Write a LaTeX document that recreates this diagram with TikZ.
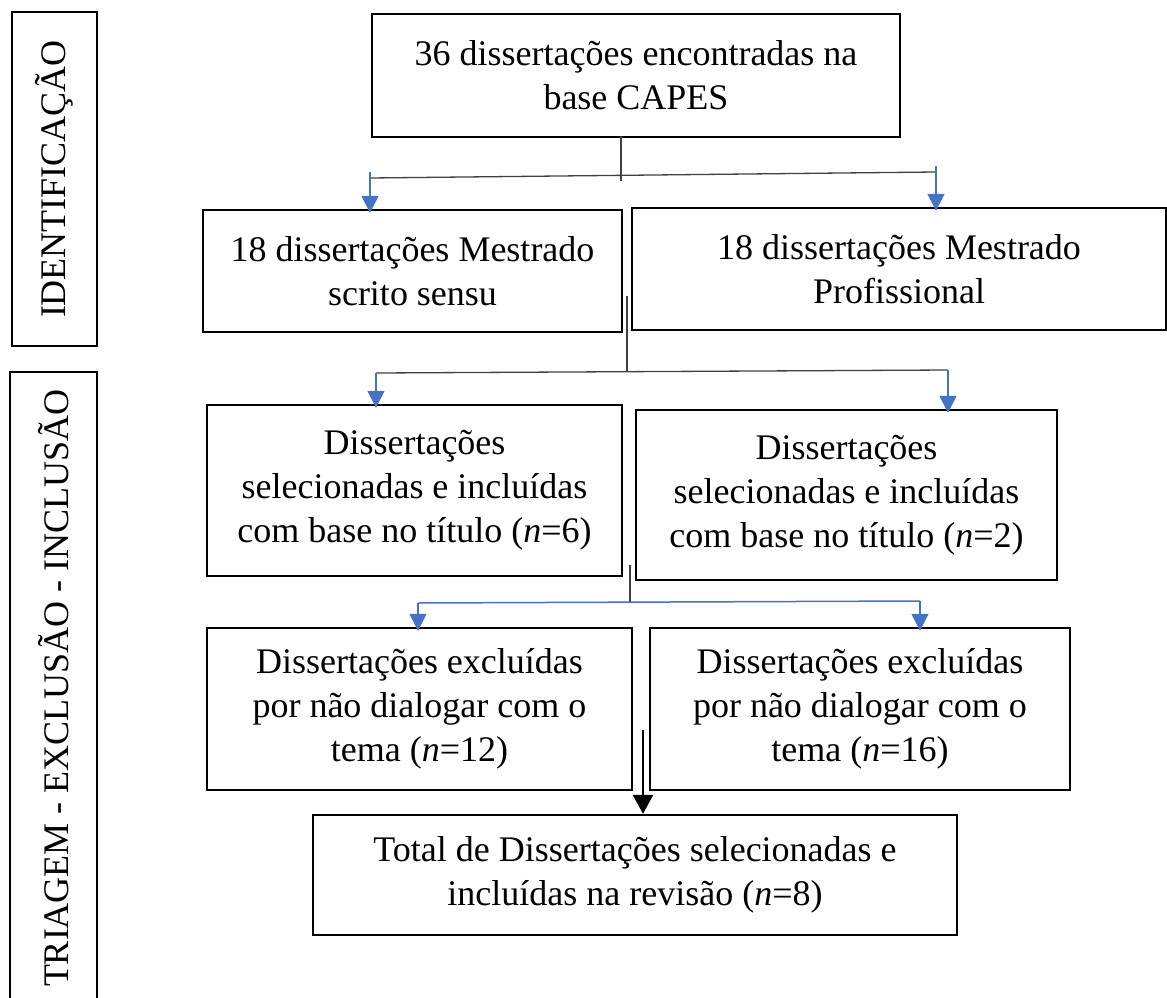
\documentclass[tikz,border=0pt]{standalone}
\usepackage{fontspec}
\setmainfont{Liberation Serif}
\usetikzlibrary{arrows.meta}
\definecolor{arrowblue}{HTML}{4472C4}
\definecolor{linegray}{HTML}{404040}
\begin{document}
\begin{tikzpicture}[x=1pt,y=-1pt,
  box/.style={draw, line width=2.4pt, align=center, inner sep=0pt,
    font=\fontsize{36}{44}\selectfont},
  conn/.style={draw=linegray, line width=1.3pt},
  barrow/.style={draw=arrowblue, line width=1.5pt, -{Triangle[width=17pt,length=17pt]}, arrowblue, shorten >=-4pt},
  karrow/.style={draw=black, line width=2.8pt, -{Triangle[width=20pt,length=19pt]}}]
\useasboundingbox (0,0) rectangle (1167,998);
% phase boxes
\node[box, rotate=90, minimum width=334pt, minimum height=85pt] (ph1) at (54.5,179) {IDENTIFICAÇÃO};
\node[box, rotate=90, minimum width=632pt, minimum height=87pt] (ph2) at (53.5,688) {TRIAGEM - EXCLUSÃO - INCLUSÃO};
% boxes
\node[box, minimum width=528pt, minimum height=123pt] (top) at (636,75.5) {36 dissertações encontradas na\\base CAPES};
\node[box, minimum width=419pt, minimum height=122pt] (ms) at (412.5,271) {18 dissertações Mestrado\\scrito sensu};
\node[box, minimum width=534pt, minimum height=122pt] (mp) at (899,269) {18 dissertações Mestrado\\Profissional};
\node[box, minimum width=415pt, minimum height=171pt] (n6) at (414.5,490.5) {Dissertações\\selecionadas e incluídas\\com base no título (\textit{n}=6)};
\node[box, minimum width=421pt, minimum height=170pt] (n2) at (846.5,495) {Dissertações\\selecionadas e incluídas\\com base no título (\textit{n}=2)};
\node[box, minimum width=425pt, minimum height=162pt] (n12) at (419.5,709) {Dissertações excluídas\\por não dialogar com o\\tema (\textit{n}=12)};
\node[box, minimum width=420pt, minimum height=162pt] (n16) at (860,709) {Dissertações excluídas\\por não dialogar com o\\tema (\textit{n}=16)};
\node[box, minimum width=644pt, minimum height=120pt] (total) at (635,875) {Total de Dissertações selecionadas e\\incluídas na revisão (\textit{n}=8)};
% connector 1
\coordinate (s1) at (621,136);
\coordinate (e1) at (621,181);
\coordinate (h1l) at (370,178);
\coordinate (h1r) at (936,172);
\coordinate (t1l) at (370,172);
\coordinate (t1r) at (936,166);
\draw[conn] (s1) -- (e1);
\draw[conn] (h1l) -- (h1r);
\draw[barrow] (t1l) -- (t1l |- ms.north);
\draw[barrow] (t1r) -- (t1r |- mp.north);
% connector 2
\coordinate (s2) at (627,296);
\coordinate (e2) at (627,372);
\coordinate (h2l) at (376,373);
\coordinate (h2r) at (948,370);
\draw[conn] (s2) -- (e2);
\draw[conn] (h2l) -- (h2r);
\draw[barrow] (h2l) -- (h2l |- n6.north);
\draw[barrow] (h2r) -- (h2r |- n2.north);
% connector 3
\coordinate (s3) at (630,565);
\coordinate (e3) at (630,602);
\coordinate (h3l) at (418,603);
\coordinate (h3r) at (920,601);
\draw[conn] (s3) -- (e3);
\draw[draw=arrowblue, line width=1.5pt] (h3l) -- (h3r);
\draw[barrow] (h3l) -- (h3l |- n12.north);
\draw[barrow] (h3r) -- (h3r |- n16.north);
% connector 4
\coordinate (s4) at (643,730);
\draw[karrow] (s4) -- (s4 |- total.north);
\end{tikzpicture}
\end{document}
